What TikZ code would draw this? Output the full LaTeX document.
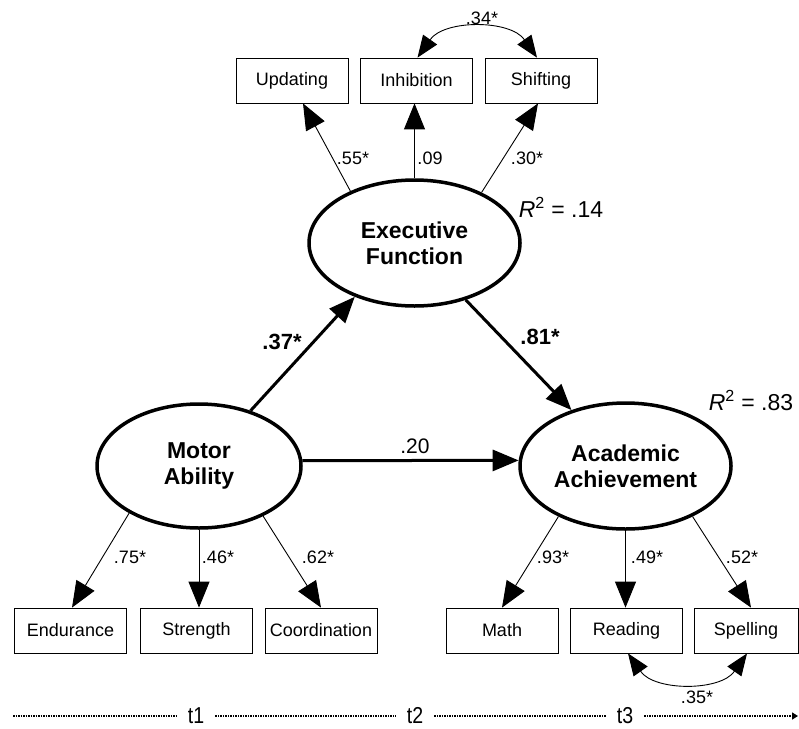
\documentclass[tikz,border=0pt]{standalone}
\usepackage{fontspec}
\setmainfont{Liberation Sans}
\usetikzlibrary{arrows.meta,shapes.geometric}
\begin{document}
\begin{tikzpicture}[x=1pt,y=-1pt,
  latent/.style={ellipse, draw, line width=3.5pt, inner sep=0pt, align=center,
    font=\bfseries\fontsize{23}{26}\selectfont},
  obs/.style={draw, line width=0.8pt, minimum width=112pt, minimum height=45pt,
    inner sep=0pt, font=\fontsize{18}{21}\selectfont},
  bigtip/.style={-{Triangle[length=26pt,width=21pt]}},
  dbltip/.style={{Triangle[length=22pt,width=17pt]}-{Triangle[length=22pt,width=17pt]}},
  thin/.style={line width=0.9pt},
  thick path/.style={line width=3pt},
  lab/.style={font=\fontsize{18}{20}\selectfont, inner sep=0pt},
  blab/.style={font=\bfseries\fontsize{22}{24}\selectfont, inner sep=0pt},
  rlab/.style={font=\fontsize{23}{25}\selectfont, inner sep=0pt},
  tlab/.style={font=\fontsize{23}{25}\selectfont, inner xsep=11pt, inner ysep=1pt},
  timeline/.style={line width=1.6pt, dash pattern=on 1.6pt off 0.9pt, -{Triangle[length=6pt,width=7pt]}}
]
\useasboundingbox (0,0) rectangle (799,728);

% latent variables
\node[latent, minimum width=211pt, minimum height=126pt] (EF) at (414.5,243) {Executive\\Function};
\node[latent, minimum width=204pt, minimum height=124pt] (MA) at (199,466) {Motor\\Ability};
\node[latent, minimum width=211pt, minimum height=126pt] (AA) at (625.5,466) {Academic\\Achievement};

% indicators
\node[obs] (Upd) at (292,80.5) {Updating};
\node[obs] (Inh) at (416.5,80.5) {Inhibition};
\node[obs] (Shi) at (541,80.5) {Shifting};
\node[obs] (End) at (70.5,630.5) {Endurance};
\node[obs] (Str) at (196.5,630.5) {Strength};
\node[obs] (Coo) at (321,630.5) {Coordination};
\node[obs] (Mat) at (502,630.5) {Math};
\node[obs] (Rea) at (626.5,630.5) {Reading};
\node[obs, minimum width=104pt] (Spe) at (746,630.5) {Spelling};

% loadings EF
\draw[thin,bigtip] (EF.141) -- ([xshift=11pt]Upd.south);
\draw[thin,bigtip] (EF.north) -- (EF.north |- Inh.south);
\draw[thin,bigtip] (EF.37) -- ([xshift=-3pt]Shi.south);
\draw[thin,dbltip] ([xshift=1pt]Inh.north) to[bend left=55] ([xshift=-4pt]Shi.north);

% loadings MA
\draw[thin,bigtip] (MA.214) -- ([xshift=1.5pt]End.north);
\draw[thin,bigtip] (MA.south) -- (MA.south |- Str.north);
\draw[thin,bigtip] (MA.322) -- (Coo.north);

% loadings AA
\draw[thin,bigtip] (AA.217) -- (Mat.north);
\draw[thin,bigtip] (AA.south) -- (AA.south |- Rea.north);
\draw[thin,bigtip] (AA.323) -- ([xshift=5pt]Spe.north);
\draw[thin,dbltip] ([xshift=1.5pt]Rea.south) to[bend right=55] ([xshift=1pt]Spe.south);

% structural paths
\draw[thick path,bigtip] (MA.47) -- (EF.222);
\draw[thick path,bigtip] (EF.312) -- (AA.134);
\draw[thick path,bigtip] (MA.3) -- (AA.177);

% labels
\node[lab] (l34) at (482,18) {.34*};
\node[lab] (l55) at (353,158) {.55*};
\node[lab] (l09) at (430,158) {.09};
\node[lab] (l30) at (527,158) {.30*};
\node[lab] (l75) at (130,557) {.75*};
\node[lab] (l46) at (218,557) {.46*};
\node[lab] (l62) at (318,557) {.62*};
\node[lab] (l93) at (553,557) {.93*};
\node[lab] (l49) at (647,557) {.49*};
\node[lab] (l52) at (742,557) {.52*};
\node[lab] (l35) at (697,697) {.35*};
\node[blab] (l37) at (282,342) {.37*};
\node[blab] (l81) at (540,337) {.81*};
\node[rlab, font=\fontsize{21}{23}\selectfont] (l20) at (415,446) {.20};
\node[rlab] (r14) at (561,207) {\textit{R}\textsuperscript{2} = .14};
\node[rlab] (r83) at (751,400) {\textit{R}\textsuperscript{2} = .83};

% timeline
\coordinate (tl0) at (13,716);
\coordinate (tl1) at (798,716);
\node[tlab] (t1) at (196,716) {\scalebox{0.85}[1]{t1}};
\node[tlab] (t2) at (415,716) {\scalebox{0.85}[1]{t2}};
\node[tlab] (t3) at (625,716) {\scalebox{0.85}[1]{t3}};
\draw[timeline] (tl0) -- (t1) -- (t2) -- (t3) -- (tl1);
\end{tikzpicture}
\end{document}
